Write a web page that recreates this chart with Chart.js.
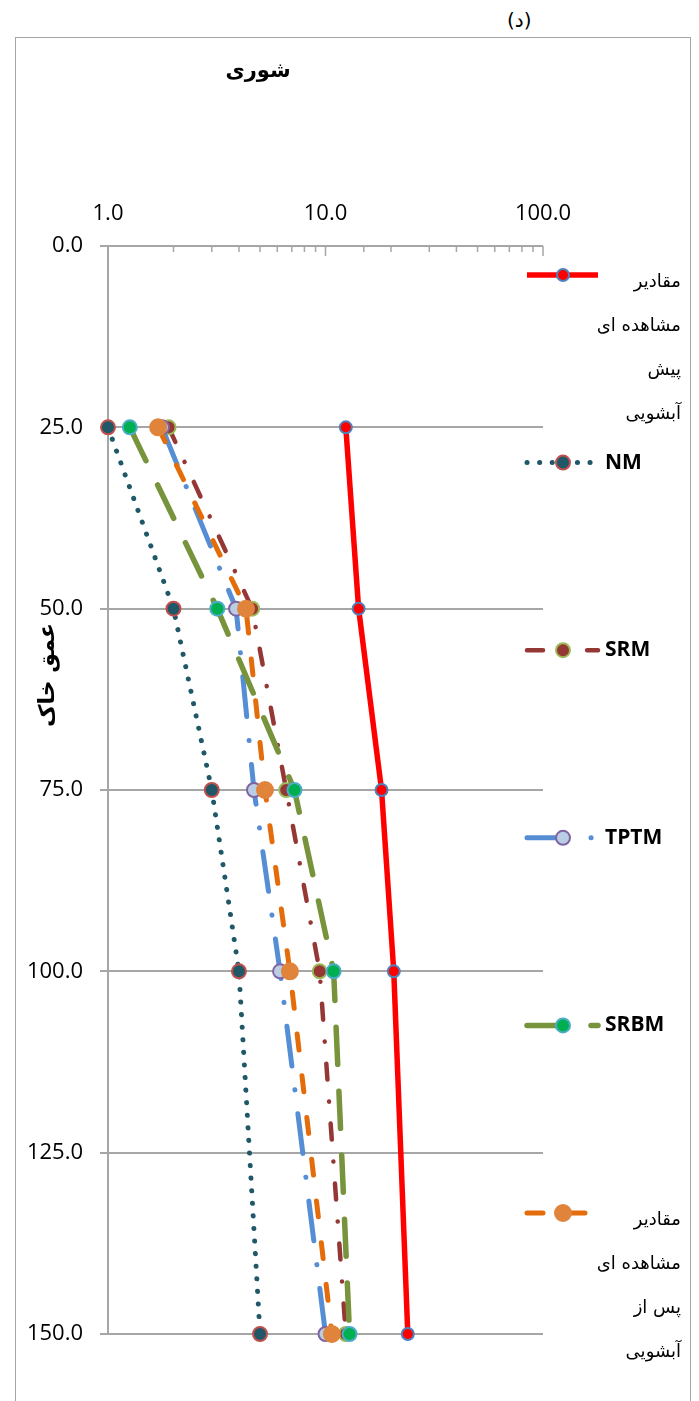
<!DOCTYPE html>
<html>
<head>
<meta charset="utf-8">
<script src="https://cdn.jsdelivr.net/npm/chart.js@4.4.1/dist/chart.umd.min.js"></script>
<style>
html, body { margin: 0; padding: 0; background: #fff; }
#wrap { position: relative; width: 699px; height: 1401px; overflow: hidden; }
#frame { position: absolute; left: 15px; top: 37px; width: 674px; height: 1420px; border: 1.5px solid #a6a6a6; }
#tag { position: absolute; left: 507px; top: 8px; font: 20px "DejaVu Sans", sans-serif; color: #000; }
canvas { position: absolute; left: 0; top: 0; }
</style>
</head>
<body>
<div id="wrap">
  <div id="frame"></div>
  <div id="tag">(د)</div>
  <canvas id="salinity_chart" width="699" height="1401"></canvas>
</div>
<script>
// depth (cm) of each sample
const depths = [25, 50, 75, 100, 150];
// salinity values
const preLeach = [12.4, 14.2, 18.1, 20.6, 23.9];
const nmValues = [1.0, 2.0, 3.0, 4.0, 5.0];
const srmValues = [1.9, 4.6, 6.6, 9.4, 12.4];
const tptmValues = [1.77, 3.88, 4.69, 6.18, 10.0];
const srbmValues = [1.26, 3.18, 7.2, 10.9, 12.9];
const postLeach = [1.7, 4.31, 5.27, 6.86, 10.7];

const yTickValues = [0, 25, 50, 75, 100, 125, 150];

const legendTexts = [
    ['مقادیر', 'مشاهده ای', 'پیش', 'آبشویی'],
    ['NM'],
    ['SRM'],
    ['TPTM'],
    ['SRBM'],
    ['مقادیر', 'مشاهده ای', 'پس از', 'آبشویی']
];
const chartTitle = 'شوری';
const yTitle = 'عمق خاک';

const arabicFont = '"DejaVu Sans", sans-serif';
const numFont = '"Open Sans", sans-serif';

function toPoints(values) {
    return values.map((v, i) => ({ x: v, y: depths[i] }));
}

function makeSeries(label, values, style, order) {
    return Object.assign({
        label: label,
        data: toPoints(values),
        showLine: true,
        clip: false,
        order: order,
        borderCapStyle: 'round',
        pointBorderWidth: 2
    }, style);
}

const datasets = [
    makeSeries(legendTexts[0].join(' '), preLeach, {
        borderColor: '#ff0000', borderWidth: 5.5, borderCapStyle: 'butt',
        pointRadius: 6, pointBackgroundColor: '#ff0000', pointBorderColor: '#4f81bd'
    }, 5),
    makeSeries('NM', nmValues, {
        borderColor: '#215868', borderWidth: 5, borderDash: [0.1, 12.5],
        pointRadius: 7, pointBackgroundColor: '#215868', pointBorderColor: '#c0504d'
    }, 4),
    makeSeries('SRM', srmValues, {
        borderColor: '#953735', borderWidth: 4.5, borderDash: [16, 22, 0.1, 22],
        pointRadius: 7, pointBackgroundColor: '#953735', pointBorderColor: '#9bbb59'
    }, 3),
    makeSeries('TPTM', tptmValues, {
        borderColor: '#558ed5', borderWidth: 5, borderDash: [40, 24, 0.1, 24],
        pointRadius: 7, pointBackgroundColor: '#b9cde5', pointBorderColor: '#8064a2'
    }, 2),
    makeSeries('SRBM', srbmValues, {
        borderColor: '#77933c', borderWidth: 5.5, borderDash: [37, 27],
        pointRadius: 7, pointBackgroundColor: '#00b050', pointBorderColor: '#4bacc6'
    }, 1),
    makeSeries(legendTexts[5].join(' '), postLeach, {
        borderColor: '#e46c0a', borderWidth: 5, borderDash: [16, 26],
        pointRadius: 8, pointBackgroundColor: '#e0843c', pointBorderColor: '#e0843c'
    }, 0)
];

// legend, titles and inner tick marks like the original spreadsheet chart
const extrasPlugin = {
    id: 'extras',
    afterDraw(chart) {
        const ctx = chart.ctx;
        const xs = chart.scales.x;
        const top = chart.chartArea.top;
        ctx.save();

        // small tick marks pointing into the plot
        ctx.strokeStyle = '#a6a6a6';
        ctx.lineWidth = 1.5;
        xs.ticks.forEach(t => {
            const px = xs.getPixelForValue(t.value);
            const lg = Math.log10(t.value);
            const major = Math.abs(lg - Math.round(lg)) < 1e-9;
            ctx.beginPath();
            ctx.moveTo(px, top);
            ctx.lineTo(px, top + (major ? 10 : 6));
            ctx.stroke();
        });

        // chart title
        ctx.fillStyle = '#000';
        ctx.font = 'bold 21px ' + arabicFont;
        ctx.textAlign = 'center';
        ctx.textBaseline = 'middle';
        ctx.fillText(chartTitle, 258, 72);

        // axis title, turned like a y-axis title
        ctx.save();
        ctx.translate(48, 675);
        ctx.rotate(-Math.PI / 2);
        ctx.font = 'bold 22px ' + arabicFont;
        ctx.fillText(yTitle, 0, 0);
        ctx.restore();

        // legend
        const legendTop = 275, legendStep = 187.6;
        const x0 = 527, x1 = 598, xm = 563;
        chart.data.datasets.forEach((ds, i) => {
            const y = legendTop + i * legendStep;
            ctx.strokeStyle = ds.borderColor;
            ctx.lineWidth = ds.borderWidth;
            ctx.lineCap = ds.borderCapStyle;
            ctx.setLineDash(ds.borderDash || []);
            ctx.beginPath();
            ctx.moveTo(x0, y);
            ctx.lineTo(x1, y);
            ctx.stroke();
            ctx.setLineDash([]);
            ctx.beginPath();
            ctx.arc(xm, y, ds.pointRadius, 0, Math.PI * 2);
            ctx.fillStyle = ds.pointBackgroundColor;
            ctx.fill();
            ctx.lineWidth = ds.pointBorderWidth;
            ctx.strokeStyle = ds.pointBorderColor;
            ctx.stroke();

            const lines = legendTexts[i];
            ctx.fillStyle = '#000';
            if (lines.length === 1) {
                ctx.font = 'bold 21px ' + numFont;
                ctx.textAlign = 'left';
                ctx.fillText(lines[0], 605, y);
            } else {
                ctx.font = '18px ' + arabicFont;
                ctx.textAlign = 'right';
                lines.forEach((txt, k) => ctx.fillText(txt, 681, y + 7 + k * 44));
            }
        });
        ctx.restore();
    }
};

const salinityChart = new Chart(document.getElementById('salinity_chart').getContext('2d'), {
    type: 'scatter',
    data: { datasets: datasets },
    options: {
        responsive: false,
        animation: false,
        events: [],
        layout: { padding: { left: 0, top: 0, right: 156, bottom: 67 } },
        plugins: {
            legend: { display: false },
            tooltip: { enabled: false }
        },
        scales: {
            x: {
                type: 'logarithmic',
                position: 'top',
                min: 1,
                max: 100,
                afterFit: s => { s.height = 246; },
                grid: { drawOnChartArea: false, drawTicks: false },
                border: { display: false },
                ticks: {
                    autoSkip: false,
                    maxRotation: 0,
                    padding: 19,
                    color: '#000',
                    font: { family: numFont, size: 22 },
                    callback: v => {
                        const lg = Math.log10(v);
                        return Math.abs(lg - Math.round(lg)) < 1e-9 ? Number(v).toFixed(1) : '';
                    }
                }
            },
            y: {
                type: 'linear',
                reverse: true,
                min: 0,
                max: 150,
                afterFit: s => { s.width = 108; },
                afterBuildTicks: s => { s.ticks = yTickValues.map(v => ({ value: v })); },
                grid: { color: '#a6a6a6', lineWidth: 2, tickLength: 8 },
                border: { color: '#a6a6a6', width: 2 },
                ticks: {
                    padding: 17,
                    color: '#000',
                    font: { family: numFont, size: 22 },
                    callback: v => Number(v).toFixed(1)
                }
            }
        }
    },
    plugins: [extrasPlugin]
});
</script>
</body>
</html>
